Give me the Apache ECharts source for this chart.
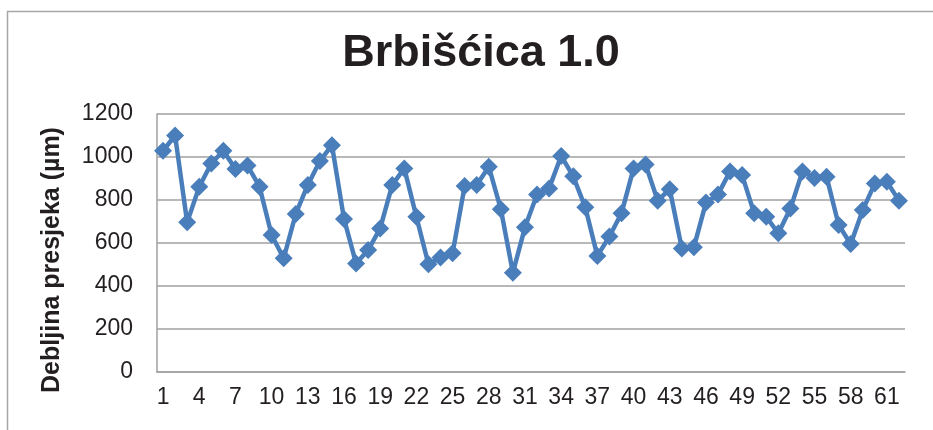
<!DOCTYPE html>
<html>
<head>
<meta charset="utf-8">
<script src="https://cdn.jsdelivr.net/npm/echarts@6/dist/echarts.min.js"></script>
<style>html,body{margin:0;padding:0;background:#fff;}#c{width:933px;height:430px;}</style>
</head>
<body>
<div id="c"></div>
<script>
const titleText = 'Brbišćica 1.0';
const yAxisTitle = 'Debljina presjeka (µm)';
const categories = [];
for (let i = 1; i <= 62; i++) categories.push(String(i));
const values = [
  1029, 1100, 696, 862, 970, 1029, 944, 960, 862, 637,
  529, 735, 870, 981, 1055, 712, 505, 567, 668, 870,
  947, 722, 501, 532, 552, 865, 870, 955, 757, 462,
  673, 826, 854, 1005, 910, 766, 540, 630, 738, 947,
  965, 797, 850, 575, 580, 788, 826, 933, 916, 738,
  722, 645, 760, 933, 902, 908, 684, 595, 753, 877,
  885, 797
];
const yTicks = [0, 200, 400, 600, 800, 1000, 1200];

const chart = echarts.init(document.getElementById('c'), null, {renderer: 'canvas'});
chart.setOption({
  animation: false,
  backgroundColor: '#ffffff',
  title: {
    text: titleText,
    left: 476,
    top: 26,
    textAlign: 'center',
    textStyle: {fontFamily: 'Liberation Sans', fontWeight: 'bold', fontSize: 45, color: '#231f20'}
  },
  graphic: [
    {type: 'rect', left: 5, top: 9, shape: {width: 1000, height: 500}, style: {fill: 'none', stroke: '#a6a6a6', lineWidth: 1.5}, silent: true, z: -1},
    {type: 'text', x: 52, y: 260, rotation: Math.PI / 2,
     style: {text: yAxisTitle, fontFamily: 'Liberation Sans', fontWeight: 'bold', fontSize: 25, fill: '#231f20', textAlign: 'center', textVerticalAlign: 'middle'}}
  ],
  grid: {left: 157, right: 28, top: 114, bottom: 58, containLabel: false},
  xAxis: {
    type: 'category',
    data: categories,
    boundaryGap: true,
    axisLine: {show: true, lineStyle: {color: '#a0a0a0', width: 1.5}},
    axisTick: {show: false},
    axisLabel: {
      interval: 2,
      margin: 14,
      fontFamily: 'Liberation Sans', fontSize: 23, color: '#231f20'
    },
    splitLine: {show: false}
  },
  yAxis: {
    type: 'value',
    min: yTicks[0],
    max: yTicks[yTicks.length - 1],
    interval: 200,
    axisLine: {show: true, lineStyle: {color: '#a0a0a0', width: 1.5}},
    axisTick: {show: false},
    axisLabel: {margin: 24, fontFamily: 'Liberation Sans', fontSize: 23, color: '#231f20',
      formatter: function (v) { return String(v); }},
    splitLine: {show: true, lineStyle: {color: '#a0a0a0', width: 1.5}}
  },
  series: [{
    type: 'line',
    data: values,
    symbol: 'diamond',
    symbolSize: 18,
    showAllSymbol: true,
    itemStyle: {color: '#4a7ebb'},
    lineStyle: {color: '#4a7ebb', width: 4.5},
    z: 3
  }]
});
</script>
</body>
</html>
